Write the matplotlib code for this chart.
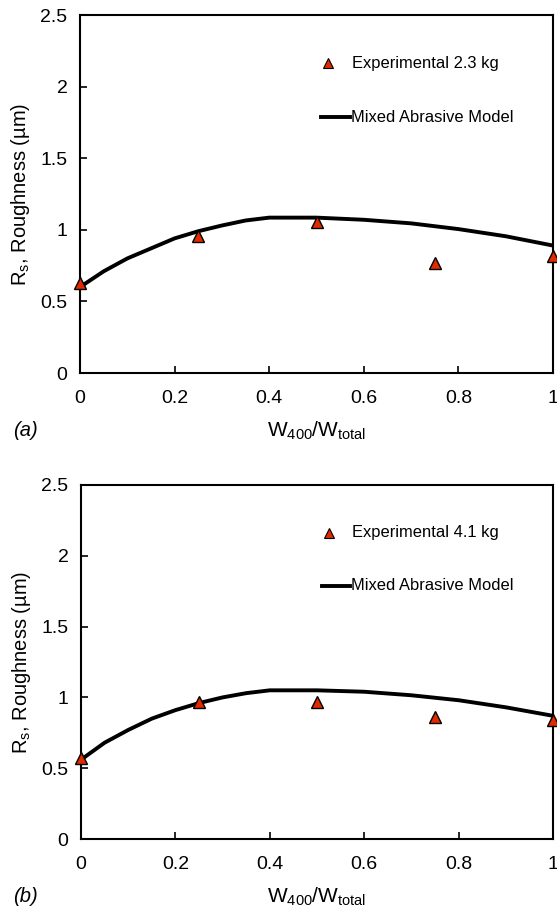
import matplotlib.pyplot as plt

plt.rcParams['font.family'] = ['Liberation Sans', 'DejaVu Sans']

# measured points, W400/Wtotal fractions
x_exp = [0, 0.25, 0.5, 0.75, 1.0]
rs_exp_23 = [0.63, 0.96, 1.055, 0.77, 0.82]
rs_exp_41 = [0.57, 0.97, 0.97, 0.86, 0.84]

# model curve
x_model = [0, 0.05, 0.1, 0.15, 0.2, 0.25, 0.3, 0.35, 0.4, 0.5, 0.6, 0.7, 0.8, 0.9, 1.0]
rs_model_23 = [0.6, 0.71, 0.8, 0.87, 0.94, 0.99, 1.03, 1.065, 1.085, 1.085, 1.07, 1.045, 1.005, 0.955, 0.89]
rs_model_41 = [0.56, 0.68, 0.77, 0.85, 0.91, 0.96, 1.0, 1.03, 1.05, 1.05, 1.04, 1.015, 0.98, 0.93, 0.87]

# stray vertical segment at x=0 in panel (a)
x_stray = [0, 0]
rs_stray = [0.6, 1.36]

xticks = [0, 0.2, 0.4, 0.6, 0.8, 1]
xticklabels = ['0', '0.2', '0.4', '0.6', '0.8', '1']
yticks = [0, 0.5, 1, 1.5, 2, 2.5]
yticklabels = ['0', '0.5', '1', '1.5', '2', '2.5']

panels = [
    ('(a)', 'Experimental 2.3 kg', rs_exp_23, rs_model_23),
    ('(b)', 'Experimental 4.1 kg', rs_exp_41, rs_model_41),
]

fig = plt.figure(figsize=(5.57, 9.11), dpi=100)
W, H = 557, 911
boxes = [(80, 15, 553, 373), (81, 485, 553, 839)]

for i, (tag, exp_label, rs_exp, rs_model) in enumerate(panels):
    l, t, r, b = boxes[i]
    ax = fig.add_axes([l / W, 1 - b / H, (r - l) / W, (b - t) / H])
    if i == 0:
        ax.plot(x_stray, rs_stray, color='black', lw=1.2, clip_on=False)
    ax.plot(x_model, rs_model, color='black', lw=2.8, zorder=2,
            solid_capstyle='butt', clip_on=False)
    ax.plot(x_exp, rs_exp, linestyle='none', marker='^', markersize=9,
            markerfacecolor='#e02a00', markeredgecolor='black',
            markeredgewidth=1.0, zorder=3, clip_on=False)
    ax.set_xlim(0, 1)
    ax.set_ylim(0, 2.5)
    ax.set_xticks(xticks)
    ax.set_xticklabels(xticklabels)
    ax.set_yticks(yticks)
    ax.set_yticklabels(yticklabels)
    ax.tick_params(direction='in', length=5, width=1.2, labelsize=14)
    ax.tick_params(axis='x', pad=12)
    ax.tick_params(axis='y', pad=9)
    for s in ax.spines.values():
        s.set_linewidth(1.5)
    ax.set_xlabel('W$_{\\mathregular{400}}$/W$_{\\mathregular{total}}$', fontsize=15)
    ax.xaxis.set_label_coords(0.5, -58 / (b - t))
    ax.xaxis.label.set_va('center')
    ax.set_ylabel('R$_{\\mathregular{s}}$, Roughness (\u00b5m)', fontsize=14.5, labelpad=6)

    # legend drawn in axes coordinates
    ax.plot([0.525], [0.865], transform=ax.transAxes, marker='^', markersize=7,
            markerfacecolor='#e02a00', markeredgecolor='black', markeredgewidth=0.8,
            linestyle='none')
    ax.text(0.575, 0.865, exp_label, transform=ax.transAxes, fontsize=11.9,
            va='center', ha='left')
    ax.plot([0.51, 0.57], [0.715, 0.715], transform=ax.transAxes, color='black', lw=2.8)
    ax.text(0.572, 0.715, 'Mixed Abrasive Model', transform=ax.transAxes, fontsize=11.9,
            va='center', ha='left')

    fig.text(13 / W, 1 - (b + 58) / H, tag, fontsize=14.5, style='italic', va='center')

fig.savefig('out.png', dpi=100)
